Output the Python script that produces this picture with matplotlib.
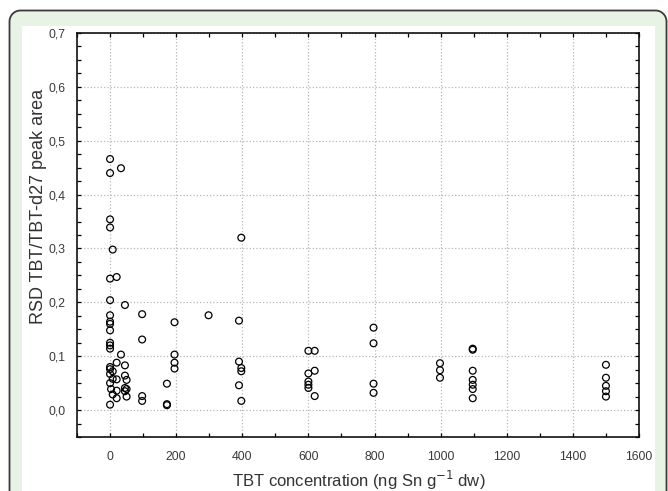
import matplotlib
matplotlib.use("Agg")
import numpy as np
import matplotlib.pyplot as plt
from matplotlib.patches import PathPatch, Rectangle
from matplotlib.path import Path
from matplotlib.transforms import IdentityTransform
from matplotlib.ticker import MultipleLocator, FuncFormatter

# TBT concentration (ng Sn/g dw) and RSD of TBT/TBT-d27 peak area
conc = [0, 0, 0, 0, 0, 0, 0, 0, 0, 0, 0, 0, 0, 0, 0, 0, 0, 0,
        3, 8, 8, 8, 8,
        20, 20, 20, 20, 20,
        33, 33,
        45, 45, 45, 45, 45,
        50, 50, 50,
        97, 97, 97, 97,
        172, 172, 172,
        195, 195, 195, 195,
        298,
        390, 390, 390,
        397, 397, 397, 397,
        600, 600, 600, 600, 600,
        619, 619, 619,
        797, 797, 797, 797,
        998, 998, 998,
        1097, 1097, 1097, 1097, 1097, 1097, 1097,
        1500, 1500, 1500, 1500, 1500]
rsd = [0.466, 0.440, 0.354, 0.339, 0.244, 0.204, 0.176, 0.164, 0.160, 0.148,
       0.125, 0.120, 0.114, 0.080, 0.076, 0.067, 0.050, 0.010,
       0.039, 0.298, 0.072, 0.058, 0.029,
       0.247, 0.088, 0.057, 0.036, 0.022,
       0.449, 0.103,
       0.195, 0.083, 0.064, 0.041, 0.035,
       0.056, 0.039, 0.025,
       0.178, 0.131, 0.026, 0.017,
       0.049, 0.011, 0.009,
       0.163, 0.103, 0.088, 0.077,
       0.176,
       0.166, 0.090, 0.046,
       0.320, 0.078, 0.072, 0.017,
       0.110, 0.068, 0.053, 0.047, 0.041,
       0.110, 0.073, 0.026,
       0.153, 0.124, 0.049, 0.032,
       0.087, 0.074, 0.060,
       0.114, 0.112, 0.073, 0.056, 0.047, 0.039, 0.022,
       0.084, 0.060, 0.045, 0.035, 0.025]

plt.rcParams['font.family'] = ['Liberation Sans', 'DejaVu Sans']

W, H = 668, 491
fig = plt.figure(figsize=(W/100, H/100), dpi=100)
fig.patch.set_facecolor('white')

# rounded green frame (pixel coords), open at the bottom
r = 11
x0, x1, ytop = 9.5, 666.5, H - 10.5
t = np.linspace(0, np.pi/2, 20)
left_arc = np.column_stack([x0 + r - r*np.cos(t), ytop - r + r*np.sin(t)])
right_arc = np.column_stack([x1 - r + r*np.sin(t), ytop - r + r*np.cos(t)])
verts = np.vstack([[x0, -20], left_arc, right_arc, [x1, -20], [x0, -20]])
codes = [Path.MOVETO] + [Path.LINETO]*(len(verts)-2) + [Path.CLOSEPOLY]
frame = PathPatch(Path(verts, codes), transform=IdentityTransform(),
                  facecolor='#e8f2e5', edgecolor='#3a3a3a', linewidth=1.3, zorder=0)
fig.patches.append(frame)
panel = Rectangle((22/W, -0.05), (655-22)/W, 1.05 - 26/H,
                  transform=fig.transFigure, facecolor='white',
                  edgecolor='none', zorder=0.5)
fig.patches.append(panel)

ax = fig.add_axes([77/W, 1 - 437/H, (639-77)/W, (437-33)/H])
ax.set_zorder(2)
ax.set_facecolor('white')
ax.scatter(conc, rsd, s=24, facecolors='none', edgecolors='black',
           linewidths=0.9, zorder=3)

ax.set_xlim(-100, 1600)
ax.set_ylim(-0.05, 0.7)
ax.xaxis.set_major_locator(MultipleLocator(200))
ax.xaxis.set_minor_locator(MultipleLocator(100))
ax.yaxis.set_major_locator(MultipleLocator(0.1))
ax.yaxis.set_minor_locator(MultipleLocator(0.025))
ax.yaxis.set_major_formatter(FuncFormatter(lambda v, p: f"{v:.1f}".replace('.', ',').replace('-0,0', '0,0')))

ax.grid(True, which='major', color='#b8b8b8', linestyle=':', linewidth=0.9)
ax.tick_params(which='both', direction='in', top=True, right=True,
               length=3, width=0.9, labelsize=8.8, labelcolor='#3a3a3a')
ax.tick_params(axis='x', pad=10)
ax.tick_params(axis='y', pad=8)
for s in ax.spines.values():
    s.set_linewidth(1.2)
    s.set_color('#111111')

ax.set_xlabel('TBT concentration (ng Sn g$^{-1}$ dw)', fontsize=12, color='#333333')
ax.set_ylabel('RSD TBT/TBT-d27 peak area', fontsize=13, color='#333333')
ax.xaxis.set_label_coords(0.502, -0.08)
ax.yaxis.set_label_coords(-0.054, 0.57)

fig.savefig('out.png', dpi=100)
